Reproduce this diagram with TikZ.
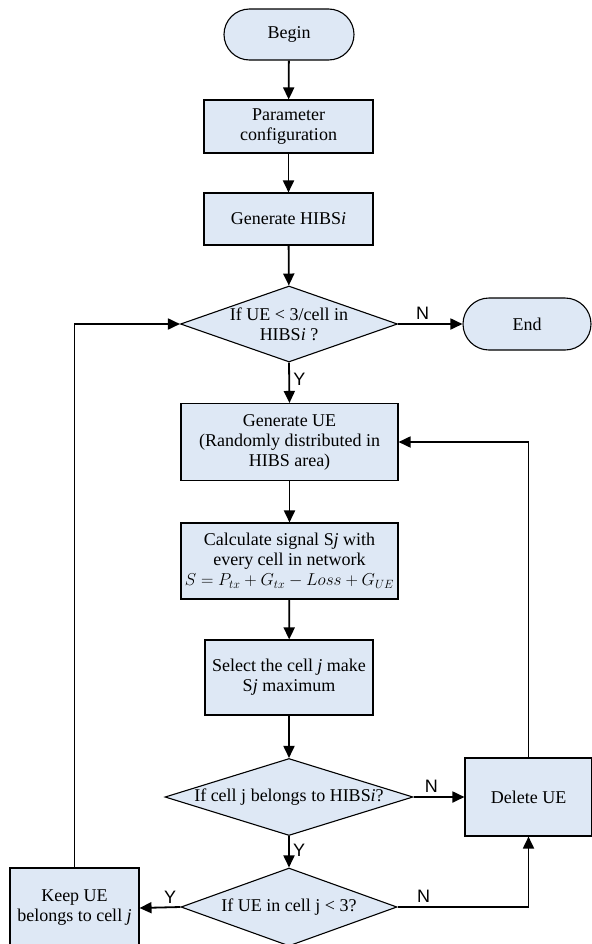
\documentclass[tikz,border=0pt]{standalone}
\usepackage{fontspec}
\setmainfont{Liberation Serif}
\newfontfamily\labelfont{Liberation Sans}
\usetikzlibrary{arrows.meta,shapes.geometric,shapes.misc}
\definecolor{boxfill}{RGB}{222,232,245}

\begin{document}
\begin{tikzpicture}[x=1bp, y=-1bp,
  every node/.style={font=\fontsize{18bp}{20bp}\selectfont, align=center},
  terminal/.style={rounded rectangle, draw, fill=boxfill, line width=1.1bp, minimum width=#1, minimum height=51bp, inner sep=0pt},
  process/.style={rectangle, draw, fill=boxfill, line width=1.1bp, inner sep=0pt},
  decision/.style={diamond, draw, fill=boxfill, line width=1.1bp, inner sep=0pt},
  flow/.style={line width=1.8bp, -{Triangle[length=12bp, width=11bp]}},
  yn/.style={font=\labelfont\fontsize{18bp}{20bp}\selectfont}]
  \useasboundingbox (0,0) rectangle (592,944);

  % main column
  \node[terminal=130bp] (begin) at (289,34.5) {Begin};
  \node[process, minimum width=169bp, minimum height=53bp] (param) at (288.5,126.5) {Parameter\\configuration};
  \node[process, minimum width=169bp, minimum height=52bp] (hibs) at (288.5,219) {Generate HIBS\textit{i}};
  \node[decision, minimum width=217bp, minimum height=76bp] (ifue) at (289,324) {};
  \node (ifuetext) at (289,324) {If UE < 3/cell in\\HIBS\textit{i} ?};
  \node[terminal=128bp, minimum height=52bp] (end) at (527,324) {End};
  \node[process, minimum width=217bp, minimum height=77bp] (genue) at (289.5,442) {Generate UE\\(Randomly distributed in\\HIBS area)};
  \node[process, minimum width=217bp, minimum height=76bp] (calc) at (289.5,561) {Calculate signal S\textit{j} with\\every cell in network\\$S=P_{tx}+G_{tx}-Loss+G_{UE}$};
  \node[process, minimum width=168bp, minimum height=75bp] (select) at (289,677.5) {Select the cell \textit{j} make\\S\textit{j} maximum};
  \node[decision, minimum width=248bp, minimum height=77bp] (ifcell) at (289,797) {};
  \node (ifcelltext) at (289,797) {If cell j belongs to HIBS\textit{i}?};
  \node[process, minimum width=127bp, minimum height=78bp] (delete) at (528.5,797) {Delete UE};
  \node[decision, minimum width=216bp, minimum height=78bp] (ifless) at (289,907) {};
  \node (iflesstext) at (289,907) {If UE in cell j < 3?};
  \node[process, minimum width=129bp, minimum height=80bp] (keep) at (74.5,908) {Keep UE\\belongs to cell \textit{j}};

  % connectors
  \draw[flow] (begin) -- (param);
  \draw[flow] (param) -- (hibs);
  \draw[flow] (hibs) -- (ifue);
  \draw[flow] (ifue.east) -- node[yn, above, pos=0.38] {N} (end.west);
  \draw[flow] (ifue.south) -- node[yn, right, pos=0.42] {Y} (genue.north);
  \draw[flow] (genue) -- (calc);
  \draw[flow] (calc) -- (select);
  \draw[flow] (select) -- (ifcell);
  \draw[flow] (ifcell.east) -- node[yn, above, pos=0.35] {N} (delete.west);
  \draw[flow] (ifcell.south) -- node[yn, right, pos=0.45] {Y} (ifless.north);
  \draw[flow] (ifless.west) -- node[yn, above, pos=0.25] {Y} (keep.east);
  \draw[flow] (ifless.east) -| node[yn, above, pos=0.1] {N} (delete.south);

  % loops back
  \draw[flow] (delete.north) |- (genue.east);
  \draw[flow] (keep.north) |- (ifue.west);
\end{tikzpicture}
\end{document}
